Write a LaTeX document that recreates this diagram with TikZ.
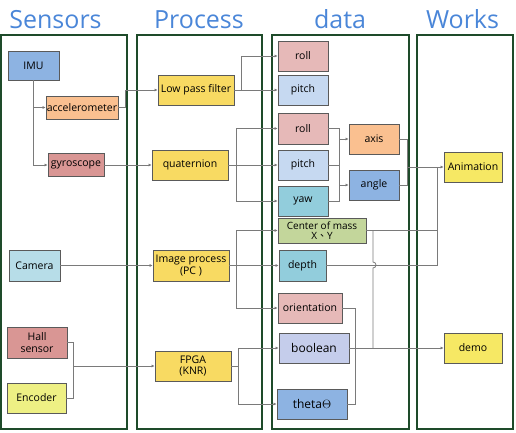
\documentclass[tikz,border=0pt]{standalone}
\usepackage{fontspec}
\setmainfont{Open Sans}
\newfontfamily\cjk{Noto Sans CJK TC}
\usetikzlibrary{arrows.meta}

\definecolor{titleblue}{HTML}{4A86D8}
\definecolor{framegreen}{HTML}{1E4B2A}
\definecolor{linegray}{HTML}{7A7A7A}
\definecolor{boxline}{HTML}{5A5A5A}
\definecolor{fblue}{HTML}{8DB3E2}
\definecolor{forange}{HTML}{FAC090}
\definecolor{fred}{HTML}{D99694}
\definecolor{fyellow}{HTML}{F8DA62}
\definecolor{fcyan}{HTML}{B7DDE8}
\definecolor{flime}{HTML}{EEF084}
\definecolor{fpink}{HTML}{E6B9B8}
\definecolor{fsky}{HTML}{C6D9F1}
\definecolor{fteal}{HTML}{92CDDC}
\definecolor{fgreen}{HTML}{C3D69B}
\definecolor{flav}{HTML}{C5CDEB}
\definecolor{fworks}{HTML}{F6E864}

\begin{document}
\begin{tikzpicture}[x=1pt,y=-1pt,
    box/.style={draw=boxline,line width=0.9pt,align=center,inner sep=0pt,
      font=\fontsize{10.5}{11.5}\selectfont},
    bigtext/.style={font=\fontsize{12}{13}\selectfont},
    panel/.style={draw=framegreen,line width=1.8pt},
    heading/.style={text=titleblue,anchor=base,font=\fontsize{25}{25}\selectfont},
    conn/.style={draw=linegray,line width=0.8pt},
    arr/.style={conn,-{Latex[length=3pt,width=3pt]}}]
  \useasboundingbox (0,0) rectangle (516,432);

  % columns
  \draw[panel] (1,35) rectangle (127,429);
  \draw[panel] (137,35) rectangle (262,429);
  \draw[panel] (272,35) rectangle (409,429);
  \draw[panel] (417,35) rectangle (513,429);
  \node[heading] (tSensors) at (55.5,28) {Sensors};
  \node[heading] (tProcess) at (199,28) {Process};
  \node[heading] (tData) at (340,28) {data};
  \node[heading] (tWorks) at (462.5,28) {Works};

  % sensors
  \node[box,fill=fblue,minimum width=51pt,minimum height=29pt] (IMU) at (33.5,65.5) {IMU};
  \node[box,fill=forange,minimum width=72pt,minimum height=23pt] (accel) at (82,107.5) {accelerometer};
  \node[box,fill=fred,minimum width=56pt,minimum height=23pt] (gyro) at (76,165) {gyroscope};
  \node[box,fill=fcyan,minimum width=51pt,minimum height=31pt] (camera) at (34.5,265.5) {Camera};
  \node[box,fill=fred,minimum width=60pt,minimum height=31pt] (hall) at (37,342.5) {Hall\\sensor};
  \node[box,fill=flime,minimum width=59pt,minimum height=30pt] (encoder) at (36.5,398) {Encoder};

  % process
  \node[box,fill=fyellow,minimum width=76pt,minimum height=30pt] (lpf) at (196,90) {Low pass filter};
  \node[box,fill=fyellow,minimum width=76pt,minimum height=30pt] (quat) at (190,165) {quaternion};
  \node[box,fill=fyellow,minimum width=76pt,minimum height=31pt] (image) at (191,265.5) {Image process\\(PC )};
  \node[box,fill=fyellow,minimum width=76pt,minimum height=30pt] (fpga) at (193,366) {FPGA\\(KNR)};

  % data
  \node[box,fill=fpink,minimum width=50pt,minimum height=30pt] (rollA) at (303,56) {roll};
  \node[box,fill=fsky,minimum width=50pt,minimum height=30pt] (pitchA) at (303,90) {pitch};
  \node[box,fill=fpink,minimum width=50pt,minimum height=31pt] (rollB) at (303,128.5) {roll};
  \node[box,fill=fsky,minimum width=50pt,minimum height=30pt] (pitchB) at (303,165) {pitch};
  \node[box,fill=fteal,minimum width=50pt,minimum height=30pt] (yaw) at (303,201) {yaw};
  \node[box,fill=forange,minimum width=50pt,minimum height=30pt] (axis) at (374,139) {axis};
  \node[box,fill=fblue,minimum width=50pt,minimum height=30pt] (angle) at (374,185) {angle};
  \node[box,fill=fgreen,minimum width=88pt,minimum height=25pt,
    font=\fontsize{10}{10.5}\selectfont] (mass) at (322,230.5) {Center of mass\\X{\cjk 、}Y};
  \node[box,fill=fteal,minimum width=47pt,minimum height=31pt] (depth) at (302.5,265.5) {depth};
  \node[box,fill=fpink,minimum width=64pt,minimum height=30pt] (orient) at (310,308) {orientation};
  \node[box,bigtext,fill=flav,minimum width=70pt,minimum height=30pt] (bool) at (314,348) {boolean};
  \node[box,bigtext,fill=fblue,minimum width=70pt,minimum height=30pt] (theta) at (312,404) {theta$\Theta$};

  % works
  \node[box,fill=fworks,minimum width=58pt,minimum height=30pt] (anim) at (473,167) {Animation};
  \node[box,fill=fworks,minimum width=58pt,minimum height=30pt] (demo) at (473,348) {demo};

  % bus lines
  \coordinate (jAccel) at (125,0);
  \coordinate (jLpf) at (241,0);
  \coordinate (jQuat) at (236,0);
  \coordinate (jRpy) at (339,0);
  \coordinate (jAxis) at (407,0);
  \coordinate (jAnim) at (437,0);
  \coordinate (jDemo) at (373,0);
  \coordinate (jOrient) at (355,0);
  \coordinate (jImage) at (236,0);
  \coordinate (jHall) at (73,0);
  \coordinate (jFpga) at (238,0);
  \coordinate (hopA) at (373,262);
  \coordinate (hopB) at (373,268);

  \draw[arr] (IMU.south) |- (accel.west);
  \draw[arr] (IMU.south) |- (gyro.west);
  \draw[arr] (accel.east) -- (accel.east -| jAccel) |- (lpf.west);
  \draw[arr] (gyro.east) -- (quat.west);
  \draw[arr] (camera.east) -- (image.west);
  \draw[conn] (hall.east) -| (jHall |- encoder.east) -- (encoder.east);
  \draw[arr] (jHall |- fpga.west) -- (fpga.west);

  \draw[arr] (lpf.east) -- (pitchA.west);
  \draw[arr] (jLpf |- lpf.east) |- (rollA.west);
  \draw[arr] (quat.east) -- (pitchB.west);
  \draw[arr] (jQuat |- quat.east) |- (rollB.west);
  \draw[arr] (jQuat |- quat.east) |- (yaw.west);
  \draw[arr] (image.east) -- (depth.west);
  \draw[arr] (jImage |- image.east) |- (mass.west);
  \draw[arr] (jImage |- image.east) |- (orient.west);
  \draw[conn] (fpga.east) -- (jFpga |- fpga.east);
  \draw[arr] (jFpga |- fpga.east) |- (bool.west);
  \draw[arr] (jFpga |- fpga.east) |- (theta.west);

  \draw[conn] (rollB.east) -| (jRpy |- yaw.east) -- (yaw.east);
  \draw[conn] (pitchB.east) -- (jRpy |- pitchB.east);
  \draw[arr] (jRpy |- axis.west) -- (axis.west);
  \draw[arr] (jRpy |- angle.west) -- (angle.west);
  \draw[conn] (axis.east) -| (jAxis |- angle.east) -- (angle.east);
  \draw[arr] (jAxis |- anim.west) -- (anim.west);
  \draw[conn] (mass.east) -| (jAnim |- anim.west);
  \draw[conn] (depth.east) -| (jAnim |- mass.east);
  \draw[conn] (jDemo |- mass.east) -- (hopA) arc[start angle=-90,end angle=90,radius=3] -- (jDemo |- bool.east);
  \draw[arr] (bool.east) -- (demo.west);
  \draw[conn] (orient.east) -| (jOrient |- theta.east) -- (theta.east);
\end{tikzpicture}
\end{document}
